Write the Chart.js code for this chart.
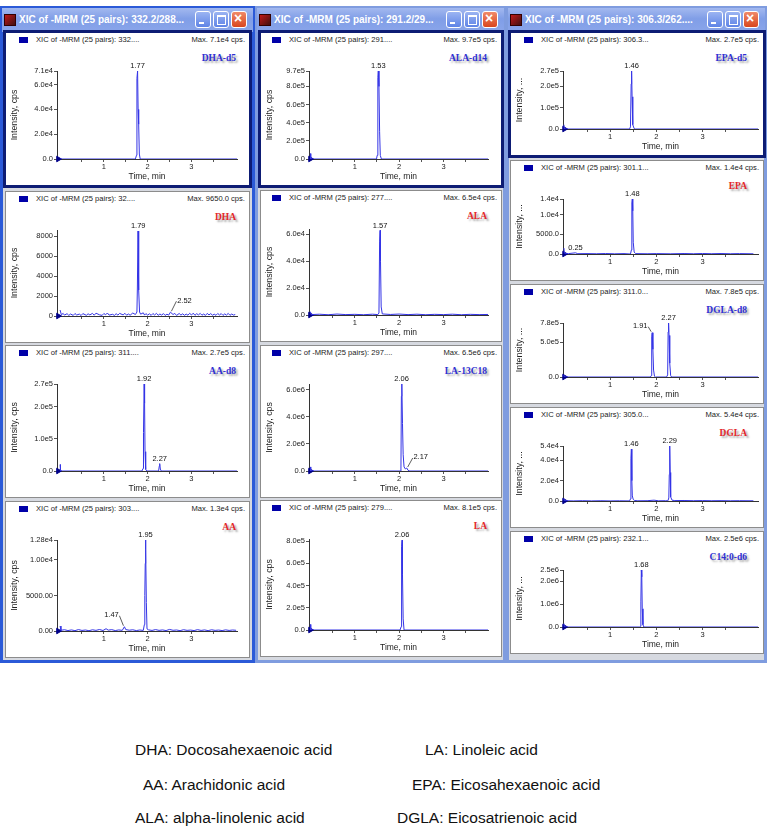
<!DOCTYPE html>
<html>
<head>
<meta charset="utf-8">
<script src="https://cdn.jsdelivr.net/npm/chart.js@4.4.1/dist/chart.umd.min.js"></script>
<style>
body { margin: 0; width: 768px; height: 826px; background: #fff; position: relative; overflow: hidden; font-family: "Liberation Sans", Arial, sans-serif; }
.win { position: absolute; }
.winbody { position: absolute; left: 3px; right: 3px; top: 26px; bottom: 3px; background: #d6d9e0; }
.title { position: absolute; left: 2px; right: 2px; top: 2px; height: 24px; background: linear-gradient(#a3b9ef, #809ee7 45%, #8aa5ea); }
.title .txt { position: absolute; left: 17px; top: 0; line-height: 24px; color: #fff; font-weight: bold; font-size: 10px; white-space: nowrap; }
.title .ico { position: absolute; left: 2px; top: 6px; width: 12px; height: 12px; background: linear-gradient(135deg, #c01818, #401010); border: 1px solid #300; box-sizing: border-box; }
.btn { position: absolute; top: 3px; width: 16px; height: 17px; border: 1px solid #fff; border-radius: 3px; box-sizing: border-box; background: linear-gradient(#9bb4f2, #5f84e6); }
.btn.close { background: linear-gradient(#f08a6a, #d9461e); }
.btn i { position: absolute; display: block; }
.panel { position: absolute; background: #fff; }
.panel.sel { outline: 3px solid #0d1c74; }
.panel.norm { outline: 1px solid #8c8c8c; }
.panel canvas { position: absolute; left: 0; top: 0; }
.sq { position: absolute; top: 4px; width: 9px; height: 6px; background: #0000a8; }
.head { position: absolute; top: 2px; font-size: 7.6px; color: #222; white-space: nowrap; }
.max { position: absolute; top: 2px; right: 4px; font-size: 7.6px; color: #222; white-space: nowrap; }
.cmp { position: absolute; top: 20px; font: bold 9.5px "Liberation Serif", "Times New Roman", serif; text-shadow: 2px 2px 2px rgba(0,0,0,0.35); white-space: nowrap; }
.note { position: absolute; font-size: 15.5px; color: #111; white-space: nowrap; }
</style>
</head>
<body>
<script>
// compound names, header masses and max labels, in panel order
const compounds = ['DHA-d5', 'DHA', 'AA-d8', 'AA', 'ALA-d14', 'ALA', 'LA-13C18', 'LA', 'EPA-d5', 'EPA', 'DGLA-d8', 'DGLA', 'C14:0-d6'];
const massLabels = ['332....', '32....', '311....', '303....', '291....', '277....', '297....', '279....', '306.3...', '301.1...', '311.0...', '305.0...', '232.1...'];
const maxLabels = ['Max. 7.1e4 cps.', 'Max. 9650.0 cps.', 'Max. 2.7e5 cps.', 'Max. 1.3e4 cps.', 'Max. 9.7e5 cps.', 'Max. 6.5e4 cps.', 'Max. 6.5e6 cps.', 'Max. 8.1e5 cps.', 'Max. 2.7e5 cps.', 'Max. 1.4e4 cps.', 'Max. 7.8e5 cps.', 'Max. 5.4e4 cps.', 'Max. 2.5e6 cps.'];
const isStandard = [true, false, true, false, true, false, true, false, true, false, true, false, true];
const windowTitles = ['XIC of -MRM (25 pairs): 332.2/288...', 'XIC of -MRM (25 pairs): 291.2/29...', 'XIC of -MRM (25 pairs): 306.3/262....'];
const xTicks = [0.5, 1, 1.5, 2, 2.5, 3, 3.5];

// traces: [time (min), intensity (cps)]
const dhaD5Trace = [[0, 0], [1.72, 0], [1.745, 3000], [1.755, 65000], [1.77, 71000], [1.782, 40000], [1.795, 28000], [1.81, 4000], [1.83, 0], [4.05, 0]];
const dhaTrace = [[0, 600], [0.03, 120], [0.07, 260], [0.1, 90], [0.16, 230], [0.2, 60], [0.24, 200], [0.3, 60], [0.34, 250], [0.38, 100], [0.44, 190], [0.48, 50], [0.52, 240], [0.6, 70], [0.64, 220], [0.68, 110], [0.74, 260], [0.78, 80], [0.82, 280], [0.9, 120], [0.96, 60], [1.0, 250], [1.04, 120], [1.08, 300], [1.12, 90], [1.2, 170], [1.24, 60], [1.28, 230], [1.32, 90], [1.36, 260], [1.44, 110], [1.48, 270], [1.52, 80], [1.56, 200], [1.6, 80], [1.66, 300], [1.72, 150], [1.755, 400], [1.765, 2800], [1.78, 8500], [1.79, 8400], [1.8, 2600], [1.815, 400], [1.84, 180], [1.9, 320], [1.93, 90], [1.96, 240], [2.0, 90], [2.04, 220], [2.08, 60], [2.12, 250], [2.16, 100], [2.2, 270], [2.24, 70], [2.28, 200], [2.32, 90], [2.36, 240], [2.4, 60], [2.44, 180], [2.48, 90], [2.52, 380], [2.58, 150], [2.62, 260], [2.66, 60], [2.72, 250], [2.76, 90], [2.8, 220], [2.84, 70], [2.88, 190], [2.92, 80], [2.96, 270], [3.0, 100], [3.04, 280], [3.08, 70], [3.12, 230], [3.16, 110], [3.2, 260], [3.24, 80], [3.28, 200], [3.32, 60], [3.36, 260], [3.4, 110], [3.44, 240], [3.48, 80], [3.52, 180], [3.56, 70], [3.6, 250], [3.64, 100], [3.68, 240], [3.72, 60], [3.76, 210], [3.8, 90], [3.84, 260], [3.88, 70], [3.92, 200], [3.96, 90], [4.0, 150]];
const aaD8Trace = [[0, 20000], [0.01, 0], [1.87, 0], [1.895, 8000], [1.905, 120000], [1.92, 270000], [1.93, 210000], [1.94, 60000], [1.955, 5000], [1.98, 0], [2.25, 0], [2.265, 15000], [2.275, 23000], [2.29, 6000], [2.31, 0], [4.05, 0]];
const aaTrace = [[0, 700], [0.02, 100], [0.1, 180], [0.18, 60], [0.26, 150], [0.34, 50], [0.42, 200], [0.5, 80], [0.58, 140], [0.66, 40], [0.74, 170], [0.82, 90], [0.9, 210], [0.98, 70], [1.05, 320], [1.1, 120], [1.18, 190], [1.26, 60], [1.34, 150], [1.42, 90], [1.47, 600], [1.5, 200], [1.58, 110], [1.66, 170], [1.74, 60], [1.82, 140], [1.9, 80], [1.925, 900], [1.935, 5000], [1.945, 9500], [1.95, 12800], [1.96, 11500], [1.97, 4000], [1.985, 300], [2.02, 160], [2.1, 80], [2.18, 200], [2.26, 90], [2.34, 150], [2.42, 60], [2.5, 220], [2.58, 100], [2.66, 140], [2.74, 50], [2.82, 180], [2.9, 90], [2.98, 130], [3.06, 60], [3.14, 190], [3.22, 80], [3.3, 150], [3.38, 50], [3.46, 170], [3.54, 90], [3.62, 130], [3.7, 60], [3.78, 160], [3.86, 80], [3.94, 140], [4.02, 100]];
const alaD14Trace = [[0, 60000], [0.01, 0], [1.49, 0], [1.505, 40000], [1.52, 900000], [1.53, 970000], [1.545, 800000], [1.56, 300000], [1.575, 40000], [1.6, 0], [4.05, 0]];
const alaTrace = [[0, 2500], [0.02, 300], [0.2, 600], [0.4, 200], [0.6, 700], [0.8, 300], [1.0, 500], [1.2, 200], [1.4, 600], [1.52, 300], [1.545, 1500], [1.56, 55000], [1.57, 63000], [1.58, 40000], [1.595, 6000], [1.62, 800], [1.8, 400], [2.0, 700], [2.2, 300], [2.4, 600], [2.6, 200], [2.8, 500], [3.0, 300], [3.2, 600], [3.4, 200], [3.6, 500], [3.8, 300], [4.0, 400]];
const la13cTrace = [[0, 300000], [0.01, 0], [2.02, 0], [2.04, 150000], [2.05, 5500000], [2.06, 6400000], [2.075, 3500000], [2.09, 1200000], [2.11, 300000], [2.14, 150000], [2.17, 220000], [2.2, 50000], [2.24, 0], [4.05, 0]];
const laTrace = [[0, 50000], [0.01, 0], [2.02, 0], [2.045, 30000], [2.055, 750000], [2.065, 810000], [2.075, 500000], [2.09, 100000], [2.11, 0], [4.05, 0]];
const epaD5Trace = [[0, 20000], [0.01, 0], [1.42, 0], [1.44, 10000], [1.455, 210000], [1.465, 270000], [1.475, 150000], [1.49, 20000], [1.52, 2000], [1.55, 0], [4.2, 0]];
const epaTrace = [[0, 1500], [0.01, 200], [0.1, 100], [0.25, 300], [0.3, 80], [0.5, 100], [0.7, 60], [0.9, 120], [1.1, 50], [1.3, 100], [1.44, 0], [1.46, 1000], [1.47, 13000], [1.48, 14000], [1.49, 11000], [1.5, 3000], [1.52, 500], [1.55, 100], [1.8, 60], [2.0, 100], [2.3, 50], [2.6, 120], [2.8, 60], [3.0, 130], [3.2, 70], [3.4, 120], [3.6, 60], [3.8, 100], [4.1, 50]];
const dglaD8Trace = [[0, 30000], [0.01, 0], [1.87, 0], [1.89, 20000], [1.9, 580000], [1.91, 640000], [1.925, 400000], [1.94, 100000], [1.96, 10000], [1.98, 0], [2.22, 0], [2.245, 30000], [2.255, 650000], [2.265, 780000], [2.275, 600000], [2.29, 200000], [2.31, 20000], [2.33, 0], [4.2, 0]];
const dglaTrace = [[0, 2500], [0.01, 300], [0.2, 100], [0.4, 300], [0.6, 100], [0.8, 250], [1.0, 80], [1.2, 200], [1.42, 100], [1.44, 2000], [1.45, 42000], [1.46, 51000], [1.47, 20000], [1.48, 5000], [1.5, 1500], [1.53, 500], [1.6, 200], [1.8, 300], [1.95, 800], [2.05, 200], [2.2, 300], [2.25, 200], [2.27, 3000], [2.28, 26000], [2.29, 54000], [2.3, 28000], [2.31, 4000], [2.34, 800], [2.4, 400], [2.6, 500], [2.8, 300], [3.0, 400], [3.2, 250], [3.4, 350], [3.6, 200], [3.8, 300], [4.1, 200]];
const c14Trace = [[0, 150000], [0.01, 0], [1.64, 0], [1.655, 30000], [1.665, 1100000], [1.675, 2500000], [1.685, 2200000], [1.695, 800000], [1.71, 100000], [1.73, 0], [4.2, 0]];

// y ticks and labels
const dhaD5Ticks = [0, 20000, 40000, 60000, 71000];
const dhaD5TickLabels = ['0.0', '2.0e4', '4.0e4', '6.0e4', '7.1e4'];
const dhaTicks = [0, 2000, 4000, 6000, 8000];
const dhaTickLabels = ['0', '2000', '4000', '6000', '8000'];
const aaD8Ticks = [0, 100000, 200000, 270000];
const aaD8TickLabels = ['0.0', '1.0e5', '2.0e5', '2.7e5'];
const aaTicks = [0, 5000, 10000, 12800];
const aaTickLabels = ['0.00', '5000.00', '1.00e4', '1.28e4'];
const alaD14Ticks = [0, 200000, 400000, 600000, 800000, 970000];
const alaD14TickLabels = ['0.0', '2.0e5', '4.0e5', '6.0e5', '8.0e5', '9.7e5'];
const alaTicks = [0, 20000, 40000, 60000];
const alaTickLabels = ['0.0', '2.0e4', '4.0e4', '6.0e4'];
const la13cTicks = [0, 2000000, 4000000, 6000000];
const la13cTickLabels = ['0.0', '2.0e6', '4.0e6', '6.0e6'];
const laTicks = [0, 200000, 400000, 600000, 800000];
const laTickLabels = ['0.0', '2.0e5', '4.0e5', '6.0e5', '8.0e5'];
const epaD5Ticks = [0, 100000, 200000, 270000];
const epaD5TickLabels = ['0.0', '1.0e5', '2.0e5', '2.7e5'];
const epaTicks = [0, 5000, 10000, 14000];
const epaTickLabels = ['0.0', '5000.0', '1.0e4', '1.4e4'];
const dglaD8Ticks = [0, 500000, 780000];
const dglaD8TickLabels = ['0.0', '5.0e5', '7.8e5'];
const dglaTicks = [0, 20000, 40000, 54000];
const dglaTickLabels = ['0.0', '2.0e4', '4.0e4', '5.4e4'];
const c14Ticks = [0, 1000000, 2000000, 2500000];
const c14TickLabels = ['0.0', '1.0e6', '2.0e6', '2.5e6'];

// y axis maxima
const yMaxima = [71000, 8600, 270000, 12800, 970000, 64000, 6400000, 820000, 270000, 14000, 780000, 54000, 2500000];

// retention-time labels: [time, intensity, text]
const dhaD5Peaks = [[1.77, 71000, '1.77']];
const dhaPeaks = [[1.785, 8500, '1.79'], [2.52, 380, '2.52']];
const aaD8Peaks = [[1.92, 270000, '1.92'], [2.275, 23000, '2.27']];
const aaPeaks = [[1.95, 12800, '1.95'], [1.47, 600, '1.47']];
const alaD14Peaks = [[1.53, 970000, '1.53']];
const alaPeaks = [[1.57, 63000, '1.57']];
const la13cPeaks = [[2.055, 6400000, '2.06'], [2.17, 220000, '2.17']];
const laPeaks = [[2.065, 810000, '2.06']];
const epaD5Peaks = [[1.465, 270000, '1.46']];
const epaPeaks = [[1.48, 14000, '1.48'], [0.25, 300, '0.25']];
const dglaD8Peaks = [[1.91, 640000, '1.91'], [2.265, 780000, '2.27']];
const dglaPeaks = [[1.46, 51000, '1.46'], [2.29, 54000, '2.29']];
const c14Peaks = [[1.675, 2500000, '1.68']];

const traces = [dhaD5Trace, dhaTrace, aaD8Trace, aaTrace, alaD14Trace, alaTrace, la13cTrace, laTrace, epaD5Trace, epaTrace, dglaD8Trace, dglaTrace, c14Trace];
const tickSets = [dhaD5Ticks, dhaTicks, aaD8Ticks, aaTicks, alaD14Ticks, alaTicks, la13cTicks, laTicks, epaD5Ticks, epaTicks, dglaD8Ticks, dglaTicks, c14Ticks];
const tickLabelSets = [dhaD5TickLabels, dhaTickLabels, aaD8TickLabels, aaTickLabels, alaD14TickLabels, alaTickLabels, la13cTickLabels, laTickLabels, epaD5TickLabels, epaTickLabels, dglaD8TickLabels, dglaTickLabels, c14TickLabels];
const peakSets = [dhaD5Peaks, dhaPeaks, aaD8Peaks, aaPeaks, alaD14Peaks, alaPeaks, la13cPeaks, laPeaks, epaD5Peaks, epaPeaks, dglaD8Peaks, dglaPeaks, c14Peaks];

// layout (page pixels)
const wins = [
  { left: 0, width: 255, frame: '#2b5ad8', pl: 6, pr: 249, axisL: 51, inset: 12, xMin: -0.07, xMax: 4.04, yTitle: 'Intensity, cps', cmpRight: 13 },
  { left: 255, width: 251, frame: '#7f9cdf', pl: 261, pr: 501, axisL: 48, inset: 13, xMin: -0.03, xMax: 4.0, yTitle: 'Intensity, cps', cmpRight: 14 },
  { left: 506, width: 261, frame: '#7f9cdf', pl: 511, pr: 763, axisL: 52, inset: 5, xMin: -0.02, xMax: 4.2, yTitle: 'Intensity, ...', cmpRight: 16 }
];
const panelBoxes = [
  [0, 33, 152], [0, 192, 150], [0, 346, 151], [0, 502, 155],
  [1, 33, 152], [1, 191, 150], [1, 346, 151], [1, 501, 155],
  [2, 33, 122], [2, 161, 119], [2, 285, 118], [2, 408, 119], [2, 532, 121]
];
// label offsets with leader lines: panel index -> label index -> [dx, dy]
const leaderOffsets = { 1: { 1: [14, -6] }, 3: { 1: [-13, -6] }, 6: { 1: [14, -5] }, 10: { 0: [-12, -1] } };

Chart.defaults.font.family = '"Liberation Sans", Arial, sans-serif';
Chart.defaults.color = '#222';

const peakLabels = {
  id: 'peakLabels',
  afterDatasetsDraw(chart, args, opts) {
    const { ctx } = chart;
    const x = chart.scales.x, y = chart.scales.y;
    ctx.save();
    ctx.font = '7.5px "Liberation Sans", Arial, sans-serif';
    ctx.fillStyle = '#111';
    ctx.strokeStyle = '#333';
    ctx.lineWidth = 0.8;
    ctx.textAlign = 'center';
    ctx.textBaseline = 'bottom';
    opts.items.forEach((p, i) => {
      const px = x.getPixelForValue(p[0]);
      const py = y.getPixelForValue(p[1]);
      const off = opts.offsets[i];
      if (off) {
        const tx = px + off[0], ty = py - 2 + off[1];
        ctx.fillText(p[2], tx, ty);
        const sx = off[0] < 0 ? tx + 8 : tx - 8;
        ctx.beginPath();
        ctx.moveTo(sx, ty - 3);
        ctx.lineTo(px + (off[0] < 0 ? -1 : 1), py - 1);
        ctx.stroke();
      } else {
        ctx.fillText(p[2], px, py - 1);
      }
    });
    ctx.restore();
  }
};

function makeWindow(w, i) {
  const el = document.createElement('div');
  el.className = 'win';
  el.style.cssText = `left:${w.left}px;top:6px;width:${w.width}px;height:657px;background:${w.frame}`;
  el.innerHTML = `<div class="winbody"></div><div class="title"><div class="ico"></div><div class="txt">${windowTitles[i]}</div></div>`;
  const title = el.querySelector('.title');
  const closeL = w.width - 4 - 22;
  [closeL - 36, closeL - 18, closeL].forEach((bx, k) => {
    const b = document.createElement('div');
    b.className = 'btn' + (k === 2 ? ' close' : '');
    b.style.left = bx + 'px';
    if (k === 0) b.innerHTML = '<i style="left:3px;top:10px;width:5px;height:2px;background:#fff"></i>';
    if (k === 1) b.innerHTML = '<i style="left:3px;top:3px;width:7px;height:7px;border:1px solid #fff;border-top-width:2px"></i>';
    if (k === 2) b.innerHTML = '<i style="left:2px;top:-2px;color:#fff;font:bold 14px Arial">×</i>';
    title.appendChild(b);
  });
  document.body.appendChild(el);
}

function makePanel(idx) {
  const [wi, top, h] = panelBoxes[idx];
  const w = wins[wi];
  const width = w.pr - w.pl;
  const ticks = tickSets[idx];
  const labels = tickLabelSets[idx];
  const div = document.createElement('div');
  const first = idx === 0 || idx === 4 || idx === 8;
  div.className = 'panel ' + (first ? 'sel' : 'norm');
  div.style.cssText = `left:${w.pl}px;top:${top}px;width:${width}px;height:${h}px`;
  const color = isStandard[idx] ? '#2f2fd2' : '#e3262a';
  const cmpFont = compounds[idx] === 'C14:0-d6' ? 'font-family:"Liberation Sans",Arial,sans-serif;font-size:9.5px;' : '';
  div.innerHTML = `<span class="sq" style="left:${wi === 1 ? 11 : 13}px"></span>` +
    `<span class="head" style="left:${wi === 1 ? 28 : 30}px">XIC of -MRM (25 pairs): ${massLabels[idx]}</span>` +
    `<span class="max">${maxLabels[idx]}</span>` +
    `<span class="cmp" style="right:${w.cmpRight}px;color:${color};${cmpFont}">${compounds[idx]}</span>`;
  const canvas = document.createElement('canvas');
  canvas.width = width;
  canvas.height = h;
  div.appendChild(canvas);
  document.body.appendChild(div);

  new Chart(canvas, {
    type: 'line',
    data: {
      datasets: [
        { data: traces[idx].map(([t, v]) => ({ x: t, y: v })), borderColor: '#3434e6', borderWidth: 1, pointRadius: 0, tension: 0 },
        { data: [{ x: w.xMin + 0.03, y: 0 }], showLine: false, pointStyle: 'triangle', rotation: 90, pointRadius: 3.2, backgroundColor: '#00008a', borderColor: '#00008a', clip: false }
      ]
    },
    options: {
      responsive: false,
      animation: false,
      events: [],
      layout: { padding: { left: 0, top: 38, right: w.inset, bottom: 0 } },
      plugins: {
        legend: { display: false },
        tooltip: { enabled: false },
        peakLabels: { items: peakSets[idx], offsets: leaderOffsets[idx] || {} }
      },
      scales: {
        x: {
          type: 'linear', min: w.xMin, max: w.xMax,
          afterBuildTicks: s => { s.ticks = xTicks.filter(v => v < s.max).map(v => ({ value: v })); },
          afterFit: s => { s.height = 26; },
          ticks: { autoSkip: false, maxRotation: 0, padding: 0, font: { size: 7.5 }, callback: v => Number.isInteger(v) ? String(v) : '' },
          grid: { drawOnChartArea: false, tickLength: 3, color: '#555' },
          border: { color: '#333' },
          title: { display: true, text: 'Time, min', font: { size: 8.5 }, padding: { top: 0, bottom: 3 } }
        },
        y: {
          type: 'linear', min: 0, max: yMaxima[idx],
          afterBuildTicks: s => { s.ticks = ticks.map(v => ({ value: v })); },
          afterFit: s => { s.width = w.axisL; },
          ticks: { autoSkip: false, padding: 1, font: { size: 7.5 }, callback: (v, i) => labels[i] },
          grid: { drawOnChartArea: false, tickLength: 3, color: '#555' },
          border: { color: '#333' },
          title: { display: true, text: w.yTitle, font: { size: 8.8 }, padding: { top: 3, bottom: 0 } }
        }
      }
    },
    plugins: [peakLabels]
  });
}

wins.forEach(makeWindow);
panelBoxes.forEach((b, i) => makePanel(i));

// abbreviation notes under the windows
const notes = [
  ['DHA: Docosahexaenoic acid', 135, 741], ['LA: Linoleic acid', 425, 741],
  ['AA: Arachidonic acid', 143, 776], ['EPA: Eicosahexaenoic acid', 412, 776],
  ['ALA: alpha-linolenic acid', 135, 809], ['DGLA: Eicosatrienoic acid', 397, 809]
];
notes.forEach(([t, x, y]) => {
  const n = document.createElement('div');
  n.className = 'note';
  n.style.left = x + 'px';
  n.style.top = y + 'px';
  n.textContent = t;
  document.body.appendChild(n);
});
</script>
</body>
</html>
